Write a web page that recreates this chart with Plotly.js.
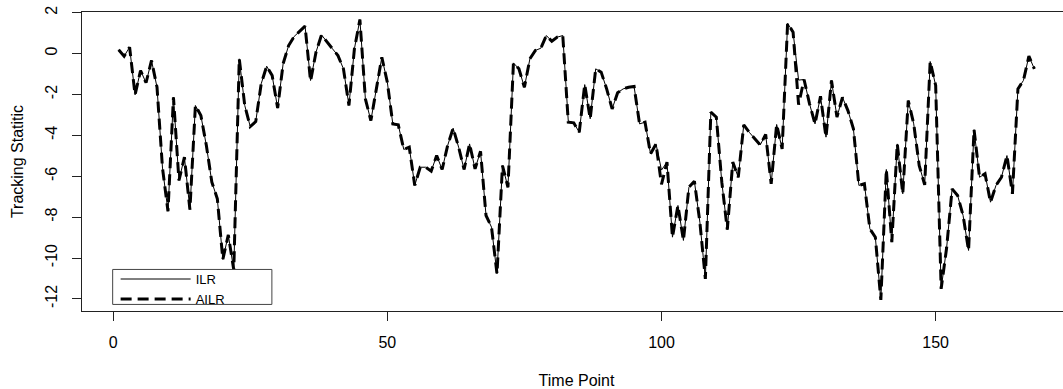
<!DOCTYPE html>
<html>
<head>
<meta charset="utf-8">
<script src="https://cdn.plot.ly/plotly-3.0.1.min.js"></script>
<style>
html, body { margin: 0; padding: 0; overflow: hidden; background: #fff; }
#chart { width: 1082px; height: 389px; }
</style>
</head>
<body>
<div id="chart"></div>
<script>
// Time points 1..168
const timePoints = Array.from({length: 168}, (_, k) => k + 1);

const ilrValues = [
  0.18, -0.13, 0.31, -2.02, -0.83, -1.43, -0.34, -1.65, -5.6, -7.71,
  -2.14, -6.21, -5.07, -7.63, -2.54, -3.03, -4.5, -6.29, -7.1, -10.07,
  -8.87, -10.58, -0.26, -2.54, -3.57, -3.33, -1.48, -0.62, -1.08, -2.67,
  -0.5, 0.39, 0.83, 1.09, 1.34, -1.32, 0.07, 0.91, 0.55, 0.23,
  -0.1, -0.75, -2.54, 0.23, 1.66, -2.22, -3.28, -1.73, -0.18, -1.4,
  -3.44, -3.49, -4.69, -4.58, -6.45, -5.56, -5.56, -5.75, -4.99, -5.67,
  -4.5, -3.65, -4.58, -5.67, -4.42, -5.64, -4.78, -7.92, -8.49, -10.77,
  -5.48, -6.54, -0.46, -0.75, -1.65, -0.26, 0.15, 0.26, 0.88, 0.6,
  0.8, 0.88, -3.3, -3.39, -3.85, -1.52, -3.19, -0.75, -0.91, -1.73,
  -2.71, -1.92, -1.73, -1.65, -1.61, -3.44, -3.36, -4.91, -4.42, -5.7,
  -5.31, -8.98, -7.43, -9.14, -6.54, -6.24, -8.25, -11.02, -2.87, -3.11,
  -6.29, -8.61, -5.31, -6.05, -3.49, -3.85, -4.17, -4.47, -3.96, -6.37,
  -3.47, -4.67, 1.48, 1.04, -1.3, -1.27, -2.46, -3.44, -2.09, -4.09,
  -1.32, -3.11, -2.14, -2.79, -3.68, -6.45, -6.37, -8.57, -8.98, -12.05,
  -5.67, -9.22, -4.42, -6.86, -2.3, -3.44, -5.48, -6.42, -0.39, -1.56,
  -11.51, -9.5, -6.62, -6.94, -7.92, -9.63, -3.72, -6.05, -5.88, -7.27,
  -6.45, -6.05, -4.99, -6.86, -1.73, -1.32, -0.13, -0.75
];

const ailrValues = [
  0.18, -0.13, 0.31, -2.02, -0.83, -1.43, -0.34, -1.65, -5.6, -7.71,
  -2.14, -6.21, -5.07, -7.63, -2.54, -3.03, -4.5, -6.29, -7.1, -10.07,
  -8.87, -10.58, -0.26, -2.54, -3.57, -3.33, -1.48, -0.62, -1.08, -2.67,
  -0.5, 0.39, 0.83, 1.09, 1.34, -1.35, 0.07, 0.91, 0.55, 0.23,
  -0.1, -0.75, -2.54, 0.23, 1.66, -2.22, -3.28, -1.73, -0.18, -1.4,
  -3.44, -3.49, -4.69, -4.58, -6.45, -5.56, -5.56, -5.75, -4.99, -5.67,
  -4.5, -3.65, -4.58, -5.67, -4.42, -5.64, -4.78, -7.92, -8.49, -10.77,
  -5.48, -6.54, -0.46, -0.75, -1.65, -0.26, 0.15, 0.26, 0.88, 0.6,
  0.8, 0.88, -3.36, -3.39, -3.85, -1.52, -3.19, -0.75, -0.91, -1.73,
  -2.71, -1.92, -1.73, -1.65, -1.61, -3.44, -3.36, -4.91, -4.42, -6.4,
  -5.31, -8.98, -7.43, -9.14, -6.54, -6.24, -8.25, -11.02, -2.87, -3.11,
  -6.29, -8.61, -5.31, -6.05, -3.49, -3.85, -4.17, -4.47, -3.96, -6.37,
  -3.47, -4.67, 1.48, 1.04, -2.5, -1.27, -2.46, -3.44, -2.09, -4.09,
  -1.32, -3.11, -2.14, -2.79, -3.68, -6.45, -6.37, -8.57, -8.98, -12.05,
  -5.67, -9.22, -4.42, -6.86, -2.3, -3.44, -5.48, -6.42, -0.39, -1.56,
  -11.51, -9.5, -6.62, -6.94, -7.92, -9.63, -3.72, -6.05, -5.88, -7.27,
  -6.45, -6.05, -4.99, -6.86, -1.73, -1.32, -0.13, -0.75
];

const seriesNames = ["ILR", "AILR"];
const xTickValues = [0, 50, 100, 150];
const yTickValues = [-12, -10, -8, -6, -4, -2, 0, 2];

const FONT = "Liberation Sans, Arial, sans-serif";

const traces = [
  {
    x: timePoints, y: ilrValues, name: seriesNames[0],
    type: "scatter", mode: "lines",
    line: { color: "#000", width: 1 }
  },
  {
    x: timePoints, y: ailrValues, name: seriesNames[1],
    type: "scatter", mode: "lines",
    line: { color: "#000", width: 3, dash: "11px,6px" }
  }
];

const layout = {
  width: 1082, height: 389,
  margin: { l: 82, r: 11, t: 12, b: 78 },
  paper_bgcolor: "#fff", plot_bgcolor: "#fff",
  font: { family: FONT, size: 16, color: "#000" },
  showlegend: true,
  legend: {
    x: 0.034, y: 0.157, xanchor: "left", yanchor: "top",
    bgcolor: "rgba(0,0,0,0)", borderwidth: 0,
    itemwidth: 70, font: { family: FONT, size: 13, color: "#000" },
    tracegroupgap: 0
  },
  shapes: [
    { type: "rect", xref: "paper", yref: "paper",
      x0: 0.031, x1: 0.192, y0: 0.022, y1: 0.139,
      line: { color: "#444", width: 1 }, fillcolor: "#fff", layer: "above" }
  ],
  xaxis: {
    range: [-5.68, 174.68], tickvals: xTickValues, ticktext: xTickValues.map(String),
    showgrid: false, zeroline: false,
    showline: true, mirror: true, linecolor: "#222", linewidth: 1,
    ticks: "outside", ticklen: 9, tickcolor: "#222", tickwidth: 1,
    ticklabelstandoff: 8,
    tickfont: { family: FONT, size: 16, color: "#000" },
    title: { text: "Time Point", font: { family: FONT, size: 16, color: "#000" }, standoff: 27 }
  },
  yaxis: {
    range: [-12.59, 2.03], tickvals: yTickValues, ticktext: yTickValues.map(String),
    showgrid: false, zeroline: false,
    showline: true, mirror: true, linecolor: "#222", linewidth: 1,
    ticks: "outside", ticklen: 9, tickcolor: "#222", tickwidth: 1,
    tickangle: -90, ticklabelstandoff: 9,
    tickfont: { family: FONT, size: 16, color: "#000" },
    title: { text: "Tracking Statitic", font: { family: FONT, size: 16, color: "#000" }, standoff: 14 }
  }
};

Plotly.newPlot("chart", traces, layout, { displayModeBar: false, staticPlot: true });
</script>
</body>
</html>
